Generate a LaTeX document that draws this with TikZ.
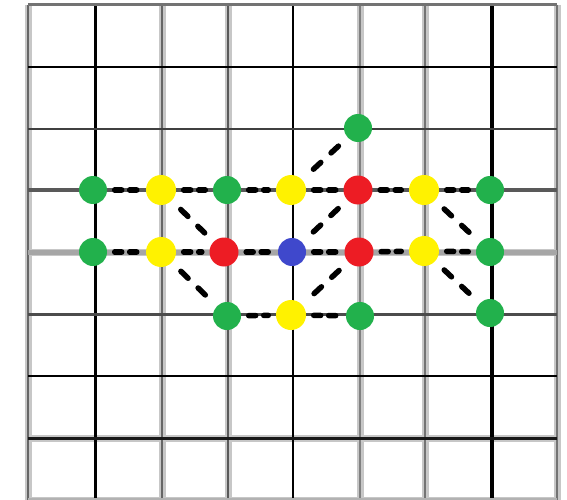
\documentclass[tikz,border=0pt]{standalone}
\definecolor{pgreen}{HTML}{22B14C}
\definecolor{pyellow}{HTML}{FFF200}
\definecolor{pred}{HTML}{ED1C24}
\definecolor{pblue}{HTML}{3F48CC}
\tikzset{
  dot/.style={circle,inner sep=0pt,minimum size=28pt,draw=none},
  gdot/.style={dot,fill=pgreen},
  ydot/.style={dot,fill=pyellow,minimum size=30pt},
  rdot/.style={dot,fill=pred,minimum size=29pt},
  bdot/.style={dot,fill=pblue},
  hlink/.style={line width=5.5pt,line cap=round,dash pattern=on 7pt off 8pt,black,
    shorten <=7.5pt,shorten >=7.5pt},
  dlink/.style={line width=5.5pt,line cap=round,dash pattern=on 10pt off 14pt,black,
    shorten <=12.5pt,shorten >=12.5pt},
  halo/.style={line width=7pt,black!22},
}
\begin{document}
\begin{tikzpicture}[x=1pt,y=-1pt]
\fill[white] (0,0) rectangle (567,500);
\useasboundingbox (0,0) rectangle (567,500);
% halos
\foreach \x in {28,162,228,360,425,557} \draw[halo] (\x,5) -- (\x,500);
\foreach \y in {252,438,500} \draw[halo] (28,\y) -- (557,\y);
% vertical grid lines
\draw[line width=2.5pt,black!60] (28,5) -- (28,500);
\draw[line width=3pt,black] (95,5) -- (95,500);
\draw[line width=2.5pt,black!60] (162,5) -- (162,500);
\draw[line width=2.5pt,black!65] (228,5) -- (228,500);
\draw[line width=1.5pt,black] (293,5) -- (293,500);
\draw[line width=2.5pt,black!50] (360,5) -- (360,500);
\draw[line width=2.5pt,black!55] (425,5) -- (425,500);
\draw[line width=3.5pt,black] (492,5) -- (492,500);
\draw[line width=2.5pt,black!55] (557,5) -- (557,500);
% horizontal grid lines
\draw[line width=3pt,black!55] (28,5) -- (557,5);
\draw[line width=2.5pt,black] (28,67) -- (557,67);
\draw[line width=2pt,black!75] (28,129) -- (557,129);
\draw[line width=3.5pt,black!65] (28,190) -- (557,190);
\draw[line width=5pt,black!35] (28,252) -- (557,252);
\draw[line width=3pt,black!70] (28,314) -- (557,314);
\draw[line width=2pt,black] (28,376) -- (557,376);
\draw[line width=3pt,black!90] (28,438) -- (557,438);
\draw[line width=4pt,black!30] (28,500) -- (557,500);
% nodes
\node[gdot] (t) at (358,128) {};
\node[gdot]  (a1) at (93,190) {};
\node[ydot]  (a2) at (161,190) {};
\node[gdot]  (a3) at (227,190) {};
\node[ydot]  (a4) at (291,190) {};
\node[rdot]  (a5) at (358,190) {};
\node[ydot]  (a6) at (424,190) {};
\node[gdot]  (a7) at (490,190) {};
\node[gdot]  (b1) at (93,252) {};
\node[ydot]  (b2) at (161,252) {};
\node[rdot]  (b3) at (224,252) {};
\node[bdot]  (b4) at (292,252) {};
\node[rdot]  (b5) at (359,252) {};
\node[ydot]  (b6) at (424,251) {};
\node[gdot]  (b7) at (490,252) {};
\node[gdot]  (c1) at (227,316) {};
\node[ydot]  (c2) at (291,315) {};
\node[gdot]  (c3) at (360,316) {};
\node[gdot]  (c4) at (490,313) {};
% connectors
\draw[hlink] (a1) -- (a2);
\draw[hlink] (a2) -- (a3);
\draw[hlink] (a3) -- (a4);
\draw[hlink] (a4) -- (a5);
\draw[hlink] (a5) -- (a6);
\draw[hlink] (a6) -- (a7);
\draw[hlink] (b1) -- (b2);
\draw[hlink] (b2) -- (b3);
\draw[hlink] (b3) -- (b4);
\draw[hlink] (b4) -- (b5);
\draw[hlink] (b5) -- (b6);
\draw[hlink] (b6) -- (b7);
\draw[hlink] (c1) -- (c2);
\draw[hlink] (c2) -- (c3);
\draw[dlink] (a2) -- (b3);
\draw[dlink] (b2) -- (c1);
\draw[dlink] (t) -- (a4);
\draw[dlink] (a5) -- (b4);
\draw[dlink] (b5) -- (c2);
\draw[dlink] (a6) -- (b7);
\draw[dlink] (b6) -- (c4);
\end{tikzpicture}
\end{document}
